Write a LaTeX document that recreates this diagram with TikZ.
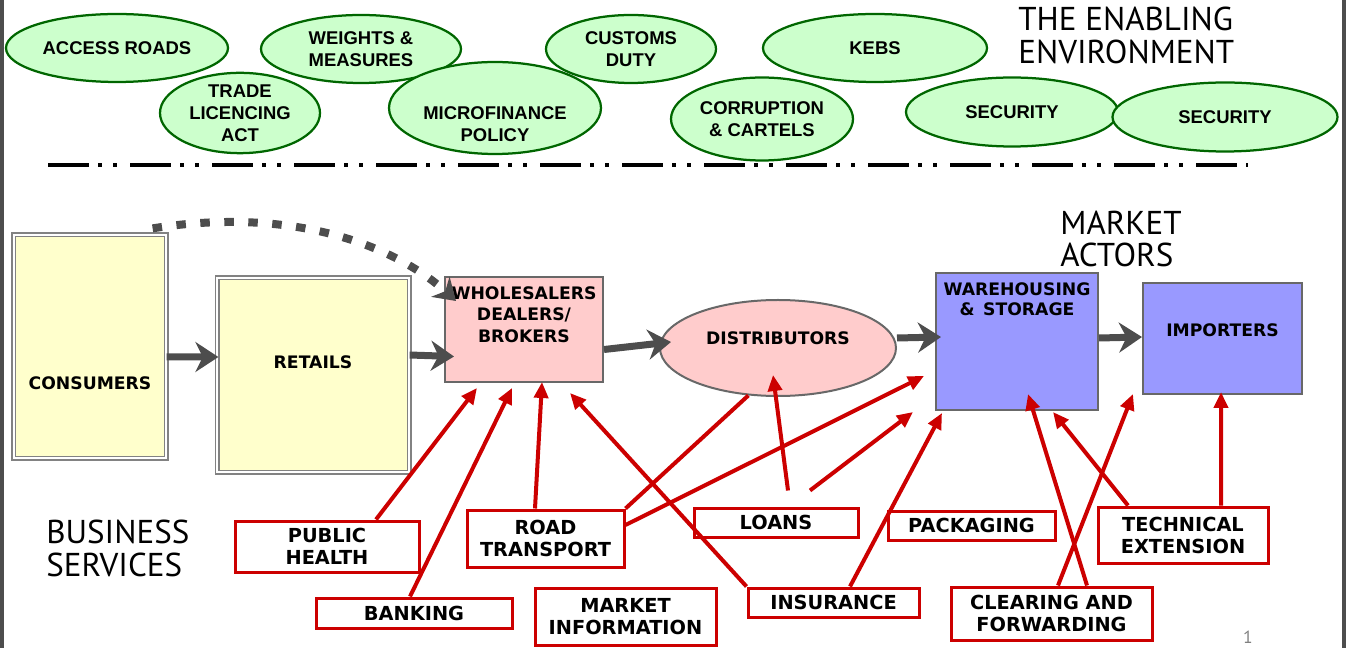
\documentclass[tikz,border=0pt]{standalone}
\usepackage{fontspec}
\setmainfont{Liberation Sans}
\newfontfamily\boxfont{DejaVu Sans}
\newfontfamily\titlefont{PT Sans}
\usetikzlibrary{arrows.meta,shapes.geometric}
\definecolor{envfill}{HTML}{CCFFCC}
\definecolor{envline}{HTML}{006600}
\definecolor{actyellow}{HTML}{FFFFCC}
\definecolor{actpink}{HTML}{FFCCCC}
\definecolor{actblue}{HTML}{9999FF}
\definecolor{flowgray}{HTML}{4D4D4D}
\definecolor{servred}{HTML}{CC0000}

\begin{document}
\begin{tikzpicture}[x=0.2mm, y=-0.2mm, >=Stealth]
  \tikzset{
    env/.style={ellipse, draw=envline, fill=envfill, line width=0.45mm, inner sep=0pt, align=center, font=\fontsize{10.5}{12.5}\selectfont\bfseries},
    envtext/.style={inner sep=0pt, align=center, font=\fontsize{10.5}{12.5}\selectfont\bfseries},
    dblbox/.style={draw=flowgray!70, double=white, double distance=0.5mm, line width=0.25mm, fill=actyellow, inner sep=0pt},
    actor/.style={draw=flowgray!85, line width=0.4mm, inner sep=0pt},
    actortext/.style={inner sep=0pt, align=center, font=\boxfont\fontsize{9.8}{12.2}\selectfont\bfseries},
    service/.style={draw=servred, fill=white, line width=0.6mm, inner sep=0pt, align=center, font=\boxfont\fontsize{11}{12.5}\selectfont\bfseries},
    heading/.style={inner sep=0pt, anchor=north west, align=left, font=\titlefont\fontsize{18.8}{18.3}\selectfont},
    flow/.style={draw=flowgray, line width=1.4mm, -{Stealth[length=4.6mm, width=6mm, inset=1.5mm]}},
    link/.style={draw=servred, line width=0.8mm, -{Triangle[length=3.2mm, width=2.8mm]}}
  }
  \useasboundingbox (0,0) rectangle (1350,648);
  \fill[flowgray] (0,0) rectangle (4,648);
  \fill[flowgray] (1342,0) rectangle (1346,648);

  % enabling environment
  \node[env, minimum width=44.4mm, minimum height=13.6mm] (accessroads) at (117,48) {ACCESS ROADS};
  \node[env, minimum width=40mm, minimum height=13.6mm] (weights) at (361,49) {WEIGHTS \&\\MEASURES};
  \node[env, minimum width=34mm, minimum height=13.6mm] (customs) at (631,49) {CUSTOMS\\DUTY};
  \node[env, minimum width=44.8mm, minimum height=13.6mm] (kebs) at (875,48) {KEBS};
  \node[env, minimum width=32mm, minimum height=14mm] (tradeact) at (240,113) {TRADE\\LICENCING\\ACT};
  \node[env, minimum width=42.4mm, minimum height=18.4mm,
        label={[envtext, yshift=-3.2mm]center:MICROFINANCE\\POLICY}] (microfinance) at (495,108) {};
  \node[env, minimum width=36.4mm, minimum height=16.6mm] (corruption) at (762,119) {CORRUPTION\\\& CARTELS};
  \node[env, minimum width=42.4mm, minimum height=13.8mm] (security) at (1012,112) {SECURITY};
  \node[env, minimum width=45mm, minimum height=13.8mm] (securitytwo) at (1225,117) {SECURITY};
  \node[heading] (enabling) at (1018,7) {THE ENABLING\\ENVIRONMENT};

  \draw[line width=0.7mm, dash pattern=on 8.2mm off 1.8mm on 0.8mm off 2.2mm on 0.8mm off 2.6mm] (48,165) -- (1248,165);

  % market actors
  \node[heading] (marketactors) at (1060,211) {MARKET\\ACTORS};
  \node[dblbox, minimum width=30.4mm, minimum height=44.6mm,
        label={[actortext, yshift=-7.4mm]center:CONSUMERS}] (consumers) at (90,346.5) {};
  \node[dblbox, minimum width=38.4mm, minimum height=38.8mm,
        label={[actortext, yshift=2.6mm]center:RETAILS}] (retails) at (313,375) {};
  \node[actor, fill=actpink, minimum width=31.6mm, minimum height=21mm,
        label={[actortext, anchor=north, yshift=-2mm]north:WHOLESALERS\\DEALERS/\\BROKERS}] (wholesalers) at (524,329.5) {};
  \node[actor, ellipse, fill=actpink, minimum width=47.2mm, minimum height=19.2mm,
        label={[actortext, yshift=2mm]center:DISTRIBUTORS}] (distributors) at (778,348) {};
  \node[actor, fill=actblue, minimum width=32.4mm, minimum height=27.4mm,
        label={[actortext, anchor=north, yshift=-2mm, font=\boxfont\fontsize{9.8}{11.4}\selectfont\bfseries]north:WAREHOUSING\\\&\enspace STORAGE}] (warehousing) at (1017,341.5) {};
  \node[actor, fill=actblue, minimum width=31.8mm, minimum height=22.2mm,
        label={[actortext, yshift=1.7mm]center:IMPORTERS}] (importers) at (1222.5,338.5) {};

  \draw[flow] ([yshift=-2.1mm]consumers.east) -- ([xshift=0.4mm, yshift=3.6mm]retails.west);
  \draw[flow] ([yshift=4mm]retails.east) -- ([xshift=2mm, yshift=-5.4mm]wholesalers.west);
  \draw[flow] ([yshift=-4mm]wholesalers.east) -- ([xshift=2.4mm, yshift=1.2mm]distributors.west);
  \draw[flow] ([yshift=2mm]distributors.east) -- ([xshift=1.2mm, yshift=0.9mm]warehousing.west);
  \draw[flow] ([yshift=0.7mm]warehousing.east) -- ([yshift=0.3mm]importers.west);
  \draw[draw=flowgray, line width=1.6mm, dash pattern=on 1.9mm off 2.9mm, -{Stealth[length=4.2mm, width=5.4mm, inset=1.3mm]}]
    ([xshift=-2.8mm, yshift=1.2mm]consumers.north east) .. controls (300,205) and (400,250) .. ([xshift=2.4mm, yshift=-5mm]wholesalers.north west);

  % business services
  \node[heading] (business) at (46,520) {BUSINESS\\SERVICES};
  \node[service, minimum width=36.8mm, minimum height=10.2mm] (publichealth) at (327,546.5) {PUBLIC\\HEALTH};
  \node[service, minimum width=39.2mm, minimum height=6mm] (banking) at (414,613) {BANKING};
  \node[service, minimum width=31.4mm, minimum height=11.4mm] (roadtransport) at (545.5,538.5) {ROAD\\TRANSPORT};
  \node[service, minimum width=36.2mm, minimum height=11.4mm] (marketinfo) at (625.5,616.5) {MARKET\\INFORMATION};
  \node[service, minimum width=32.8mm, minimum height=5.8mm] (loans) at (776,522.5) {LOANS};
  \node[service, minimum width=34.2mm, minimum height=5.8mm] (insurance) at (833.5,602.5) {INSURANCE};
  \node[service, minimum width=33.4mm, minimum height=5.8mm] (packaging) at (971.5,525.5) {PACKAGING};
  \node[service, minimum width=40.2mm, minimum height=10.6mm] (clearing) at (1051.5,613.5) {CLEARING AND\\FORWARDING};
  \node[service, minimum width=34mm, minimum height=11.2mm] (technical) at (1183,535) {TECHNICAL\\EXTENSION};

  \coordinate (whsa) at (477,388);
  \coordinate (whsb) at (512,388);
  \coordinate (whsc) at (542,382);
  \coordinate (whsd) at (570,393);
  \coordinate (distin) at (773,375);
  \coordinate (whra) at (924,376);
  \coordinate (whrb) at (913,412);
  \coordinate (whrc) at (942,413);
  \coordinate (whrd) at (1028,394);
  \coordinate (whre) at (1053,412);
  \coordinate (impa) at (1133,394);
  \coordinate (impb) at (1221,392);

  \draw[link] ([xshift=9.8mm]publichealth.north) -- (whsa);
  \draw[link] ([xshift=-0.8mm]banking.north) -- (whsb);
  \draw[link] ([xshift=-2.1mm]roadtransport.north) -- (whsc);
  \draw[link] (insurance.north west) -- (whsd);
  \draw[draw=servred, line width=0.8mm] (roadtransport.north east) -- (distributors.238);
  \draw[link] ([yshift=2.7mm]roadtransport.east) -- (whra);
  \draw[link] ([xshift=2.4mm, yshift=3.2mm]loans.north) -- (distin);
  \draw[link] ([xshift=6.8mm, yshift=3.2mm]loans.north) -- (whrb);
  \draw[link] ([xshift=3.3mm]insurance.north) -- (whrc);
  \draw[link] ([xshift=7.1mm]clearing.north) -- (whrd);
  \draw[link] ([xshift=1.3mm]clearing.north) -- (impa);
  \draw[link] ([xshift=-11mm]technical.north) -- (whre);
  \draw[link] ([xshift=7.6mm]technical.north) -- (impb);

  \node[text=gray, font=\titlefont\fontsize{10}{12}\selectfont] (pagenum) at (1248,637) {1};
\end{tikzpicture}
\end{document}
